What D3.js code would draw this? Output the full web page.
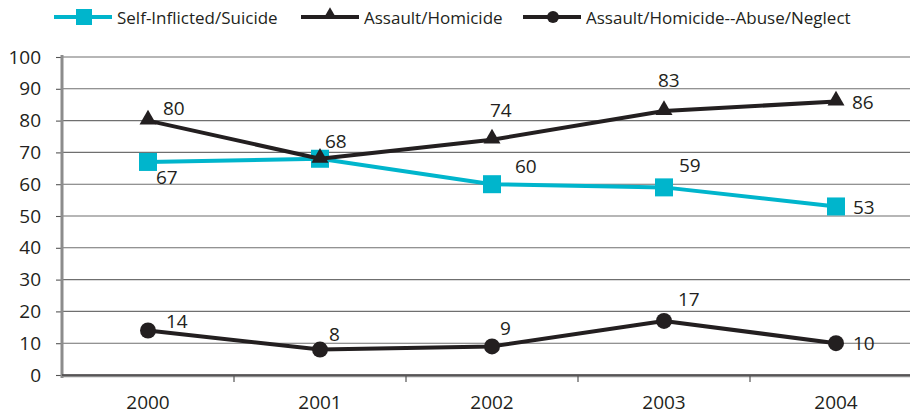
<!DOCTYPE html>
<html>
<head>
<meta charset="utf-8">
<script src="https://cdn.jsdelivr.net/npm/d3@7"></script>
<style>
  html, body { margin: 0; padding: 0; background: #fff; }
  svg { display: block; font-family: "Open Sans", "Noto Sans", sans-serif; }
</style>
</head>
<body>
<svg id="chart" width="910" height="414"></svg>
<script>
// Deaths by manner, 2000-2004
const years = ["2000", "2001", "2002", "2003", "2004"];
const suicide = [67, 68, 60, 59, 53];
const homicide = [80, 68, 74, 83, 86];
const abuseNeglect = [14, 8, 9, 17, 10];
const yTicks = [0, 10, 20, 30, 40, 50, 60, 70, 80, 90, 100];
const seriesNames = ["Self-Inflicted/Suicide", "Assault/Homicide", "Assault/Homicide--Abuse/Neglect"];

const ink = "#231f20";
const cyan = "#00b5cc";
const font = "Open Sans, Noto Sans, sans-serif";

const svg = d3.select("#chart");
const margin = { left: 62, top: 57, bottom: 375 };

const x = d3.scaleBand().domain(years).range([margin.left, margin.left + 172 * years.length]);
const y = d3.scaleLinear().domain([0, 100]).range([margin.bottom, margin.top]);
const cx = d => x(d) + x.bandwidth() / 2;

// horizontal gridlines
svg.append("g").selectAll("line").data(yTicks).join("line")
  .attr("x1", margin.left).attr("x2", 910)
  .attr("y1", d => y(d)).attr("y2", d => y(d))
  .attr("stroke", "#6f6f6f").attr("stroke-width", 1.1);

// y axis
const yAxis = svg.append("g").attr("transform", `translate(${margin.left},0)`)
  .call(d3.axisLeft(y).tickValues(yTicks).tickSize(6).tickPadding(15));
yAxis.select(".domain").remove();
yAxis.selectAll(".tick line").attr("stroke", "#555").attr("stroke-width", 1.1);
yAxis.selectAll(".tick text").attr("font-size", 19).attr("fill", ink).attr("font-family", font);
svg.append("line").attr("x1", margin.left).attr("x2", margin.left)
  .attr("y1", margin.top - 2).attr("y2", margin.bottom + 3)
  .attr("stroke", "#8c8c8c").attr("stroke-width", 3);

// x axis
const xAxis = svg.append("g").attr("transform", `translate(0,${margin.bottom})`)
  .call(d3.axisBottom(x).tickSize(0).tickPadding(21));
xAxis.select(".domain").remove();
xAxis.selectAll(".tick text").attr("font-size", 19).attr("fill", ink).attr("font-family", font);
svg.append("line").attr("x1", margin.left).attr("x2", 910)
  .attr("y1", margin.bottom + 1).attr("y2", margin.bottom + 1)
  .attr("stroke", "#8c8c8c").attr("stroke-width", 2.5);
svg.append("line").attr("x1", margin.left).attr("x2", 910)
  .attr("y1", margin.bottom).attr("y2", margin.bottom)
  .attr("stroke", ink).attr("stroke-width", 1);
// category boundary ticks
svg.append("g").selectAll("line").data(years.slice(1)).join("line")
  .attr("x1", d => x(d)).attr("x2", d => x(d))
  .attr("y1", margin.bottom + 1).attr("y2", margin.bottom + 7)
  .attr("stroke", "#555").attr("stroke-width", 1.2);

const line = d3.line().x((d, i) => cx(years[i])).y(d => y(d));

// label placement per point: [dx, dy] from the marker centre (null = no label)
const placeSuicide = [[8, 22], [5, -11], [23, -11], [15, -15], [17, 8]];
const placeHomicide = [[15, -6], null, [-2, -23], [-6, -24], [16, 7]];
const placeAbuse = [[18, -2], [9, -9], [8, -11], [14, -15], [17, 7]];

function drawLabels(values, place) {
  const pts = values.map((v, i) => ({ v, year: years[i], off: place[i] })).filter(p => p.off);
  svg.append("g").selectAll("text").data(pts).join("text")
    .attr("x", p => cx(p.year) + p.off[0])
    .attr("y", p => y(p.v) + p.off[1])
    .attr("font-size", 19).attr("fill", ink)
    .text(p => p.v);
}

// abuse/neglect series
svg.append("path").datum(abuseNeglect).attr("d", line)
  .attr("fill", "none").attr("stroke", ink).attr("stroke-width", 4).attr("stroke-linejoin", "round");
svg.append("g").selectAll("circle").data(abuseNeglect).join("circle")
  .attr("cx", (d, i) => cx(years[i])).attr("cy", d => y(d)).attr("r", 8).attr("fill", ink);

// suicide series
svg.append("path").datum(suicide).attr("d", line)
  .attr("fill", "none").attr("stroke", cyan).attr("stroke-width", 4);
svg.append("g").selectAll("rect").data(suicide).join("rect")
  .attr("x", (d, i) => cx(years[i]) - 9).attr("y", d => y(d) - 9)
  .attr("width", 18).attr("height", 18).attr("fill", cyan);

// homicide series
const tri = d3.symbol().type(d3.symbolTriangle).size(125);
svg.append("path").datum(homicide).attr("d", line)
  .attr("fill", "none").attr("stroke", ink).attr("stroke-width", 4).attr("stroke-linejoin", "round");
svg.append("g").selectAll("path").data(homicide).join("path")
  .attr("d", tri)
  .attr("transform", (d, i) => `translate(${cx(years[i])},${y(d) - 1})`)
  .attr("fill", ink);

drawLabels(suicide, placeSuicide);
drawLabels(homicide, placeHomicide);
drawLabels(abuseNeglect, placeAbuse);

// legend
const legend = svg.append("g");
const legendX = [54, 301, 523];
const legendMarks = ["square", "triangle", "circle"];
const legendColors = [cyan, ink, ink];
seriesNames.forEach((name, i) => {
  const g = legend.append("g").attr("transform", `translate(${legendX[i]},17)`);
  g.append("line").attr("x1", 0).attr("x2", 58).attr("stroke", legendColors[i]).attr("stroke-width", 4);
  if (legendMarks[i] === "square") {
    g.append("rect").attr("x", 22).attr("y", -8).attr("width", 16).attr("height", 16).attr("fill", cyan);
  } else if (legendMarks[i] === "triangle") {
    g.append("path").attr("d", d3.symbol().type(d3.symbolTriangle).size(80)).attr("transform", "translate(29,-2)").attr("fill", ink);
  } else {
    g.append("circle").attr("cx", 30).attr("cy", 0).attr("r", 6).attr("fill", ink);
  }
  g.append("text").attr("x", 63).attr("y", 7).attr("font-size", 17).attr("fill", ink).text(name);
});
</script>
</body>
</html>
